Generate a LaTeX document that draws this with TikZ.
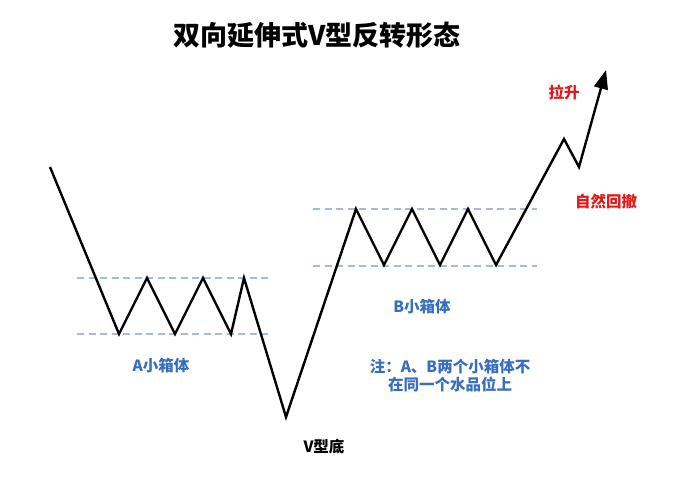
\documentclass[tikz,border=0pt]{standalone}
\usepackage{fontspec}
\newfontfamily\cjk{Noto Sans CJK SC}
\usetikzlibrary{arrows.meta,positioning}
\definecolor{boxblue}{RGB}{55,110,190}
\definecolor{tagred}{RGB}{228,24,24}
\definecolor{guidegrey}{RGB}{165,188,212}

\begin{document}
\begin{tikzpicture}[x=1pt,y=-1pt,
    price/.style={line width=2.4pt,line join=miter,black},
    boxline/.style={guidegrey,line width=1.1pt,dash pattern=on 7pt off 4.5pt},
    boxlabel/.style={font=\cjk\bfseries\fontsize{15.5}{18}\selectfont,text=boxblue,inner sep=0pt,align=center},
    redlabel/.style={font=\cjk\bfseries\fontsize{15.5}{18}\selectfont,text=tagred,inner sep=0pt},
    title/.style={font=\cjk\bfseries\fontsize{27}{27}\selectfont,inner sep=0pt}] %
    \useasboundingbox (0,0) rectangle (682,491);
    \node[title] (head) at (317,35) {双向延伸式V型反转形态};
    % price path
    \coordinate (start) at (50,167);
    \coordinate (a1) at (119,334);
    \coordinate (a2) at (147,278);
    \coordinate (a3) at (175,334);
    \coordinate (a4) at (203,278);
    \coordinate (a5) at (231,334);
    \coordinate (a6) at (244,278);
    \coordinate (vbot) at (286,417);
    \coordinate (b1) at (356,209);
    \coordinate (b2) at (384,265);
    \coordinate (b3) at (412,209);
    \coordinate (b4) at (440,265);
    \coordinate (b5) at (468,209);
    \coordinate (b6) at (496,265);
    \coordinate (up) at (564,139);
    \coordinate (back) at (579,167);
    \coordinate (tip) at (606,70);
    % box edges
    \coordinate (atopl) at (77,278);
    \coordinate (atopr) at (272,278);
    \coordinate (abotl) at (77,334);
    \coordinate (abotr) at (272,334);
    \coordinate (btopl) at (313,209);
    \coordinate (btopr) at (537,209);
    \coordinate (bbotl) at (313,266);
    \coordinate (bbotr) at (537,266);
    \draw[boxline] (atopl)--(atopr);
    \draw[boxline] (abotl)--(abotr);
    \draw[boxline] (btopl)--(btopr);
    \draw[boxline] (bbotl)--(bbotr);
    \draw[price,-{Triangle[length=19pt,width=14pt]}] (start)--(a1)--(a2)--(a3)--(a4)--(a5)--(a6)--(vbot)
        --(b1)--(b2)--(b3)--(b4)--(b5)--(b6)--(up)--(back)--(tip);
    % labels
    \node[boxlabel] (alabel) at (161,366) {A小箱体};
    \node[boxlabel] (blabel) at (422,307) {B小箱体};
    \node[boxlabel, below=22pt of vbot, xshift=38pt, text=black] (vlabel) {V型底};
    \node[boxlabel] (note) at (450,376) {注：A、B两个小箱体不\\在同一个水品位上};
    \node[redlabel] (pull) at (564,92) {拉升};
    \node[redlabel] (retrace) at (606,202) {自然回撤};
  \end{tikzpicture}
\end{document}
